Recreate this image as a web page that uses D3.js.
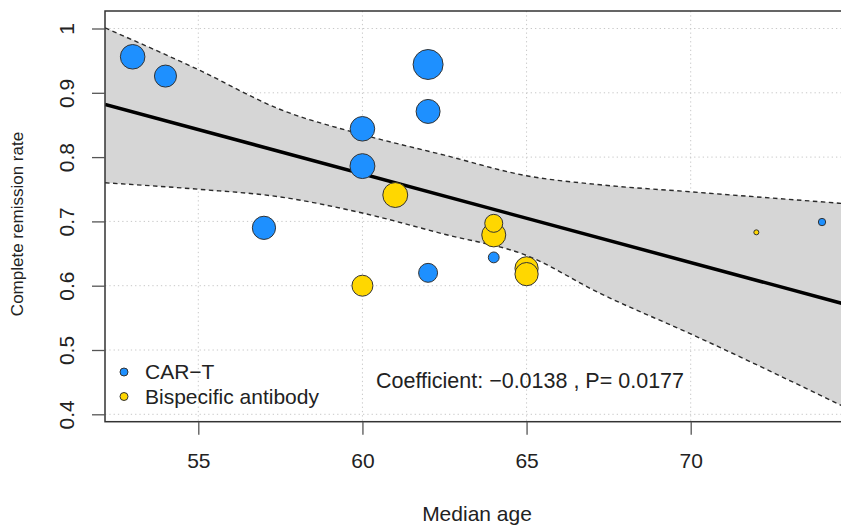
<!DOCTYPE html>
<html>
<head>
<meta charset="utf-8">
<script src="https://cdn.jsdelivr.net/npm/d3@7"></script>
<style>
  html, body { margin: 0; padding: 0; background: #fff; }
  svg { display: block; font-family: "Liberation Sans", Arial, sans-serif; }
</style>
</head>
<body>
<div id="container"></div>
<script>
// studies: median age, complete remission rate, relative weight (%)
const cartAge = [53, 54, 57, 60, 60, 62, 62, 62, 64, 74];
const cartRate = [0.956, 0.926, 0.690, 0.844, 0.786, 0.944, 0.871, 0.620, 0.644, 0.699];
const cartWeight = [6.7, 5.4, 6.0, 6.7, 6.9, 10.0, 6.4, 4.0, 1.3, 0.6];

const bsabAge = [61, 60, 64, 64, 65, 65, 72];
const bsabRate = [0.741, 0.600, 0.697, 0.679, 0.627, 0.618, 0.683];
const bsabWeight = [6.9, 4.9, 3.6, 6.4, 6.0, 6.0, 0.28];

// fitted meta-regression line and its confidence band
const fitAge = [52.16, 74.86];
const fitRate = [0.882, 0.569];
const bandAge = [52.16, 55, 57.5, 60, 62.5, 65, 67.24, 70, 74.86];
const bandUpper = [1.001, 0.936, 0.874, 0.835, 0.803, 0.771, 0.757, 0.746, 0.727];
const bandLower = [0.760, 0.750, 0.738, 0.713, 0.680, 0.647, 0.588, 0.525, 0.407];

const xTicks = [55, 60, 65, 70];
const yTicks = [0.4, 0.5, 0.6, 0.7, 0.8, 0.9, 1];
const groupNames = ["CAR\u2212T", "Bispecific antibody"];
const groupColors = ["#1E90FF", "#FFD700"];
const statText = "Coefficient: \u22120.0138 , P= 0.0177";

document.addEventListener("DOMContentLoaded", () => {
  const W = 841, H = 525;
  const plot = { left: 105, right: 849, top: 11, bottom: 421.7 };
  const fs = 21;

  const svg = d3.select("#container")
    .append("svg")
    .attr("width", W)
    .attr("height", H);

  const x = d3.scaleLinear().domain([55, 70]).range([198.3, 690.7]);
  const y = d3.scaleLinear().domain([0.4, 1]).range([414.3, 28.5]);
  const r = d3.scaleSqrt().domain([0, 10]).range([0, 15]);

  svg.append("clipPath").attr("id", "clip")
    .append("rect")
    .attr("x", plot.left).attr("y", plot.top)
    .attr("width", plot.right - plot.left)
    .attr("height", plot.bottom - plot.top);

  const inner = svg.append("g").attr("clip-path", "url(#clip)");

  // grid
  inner.append("g").selectAll("line")
    .data(xTicks)
    .join("line")
    .attr("x1", d => x(d)).attr("x2", d => x(d))
    .attr("y1", plot.top).attr("y2", plot.bottom)
    .attr("stroke", "#c8c8c8")
    .attr("stroke-dasharray", "1.3,3");

  inner.append("g").selectAll("line")
    .data(yTicks)
    .join("line")
    .attr("x1", plot.left).attr("x2", plot.right)
    .attr("y1", d => y(d)).attr("y2", d => y(d))
    .attr("stroke", "#c8c8c8")
    .attr("stroke-dasharray", "1.3,3");

  // confidence band
  const band = bandAge.map((a, i) => ({ age: a, up: bandUpper[i], lo: bandLower[i] }));

  inner.append("path")
    .datum(band)
    .attr("fill", "#d6d6d6")
    .attr("d", d3.area()
      .curve(d3.curveMonotoneX)
      .x(d => x(d.age))
      .y0(d => y(d.lo))
      .y1(d => y(d.up)));

  ["up", "lo"].forEach(k => {
    inner.append("path")
      .datum(band)
      .attr("fill", "none")
      .attr("stroke", "#2a2a2a")
      .attr("stroke-width", 1.4)
      .attr("stroke-dasharray", "4.5,3.5")
      .attr("d", d3.line()
        .curve(d3.curveMonotoneX)
        .x(d => x(d.age))
        .y(d => y(d[k])));
  });

  // regression line
  inner.append("path")
    .datum(fitAge.map((a, i) => [a, fitRate[i]]))
    .attr("fill", "none")
    .attr("stroke", "#000")
    .attr("stroke-width", 3.5)
    .attr("d", d3.line().x(d => x(d[0])).y(d => y(d[1])));

  // studies, largest drawn first
  const studies = [
    ...cartAge.map((a, i) => ({ age: a, rate: cartRate[i], w: cartWeight[i], g: 0 })),
    ...bsabAge.map((a, i) => ({ age: a, rate: bsabRate[i], w: bsabWeight[i], g: 1 }))
  ].sort((a, b) => b.w - a.w);

  inner.append("g").selectAll("circle")
    .data(studies)
    .join("circle")
    .attr("cx", d => x(d.age))
    .attr("cy", d => y(d.rate))
    .attr("r", d => r(d.w))
    .attr("fill", d => groupColors[d.g])
    .attr("stroke", "#333")
    .attr("stroke-width", 1);

  // box
  svg.append("rect")
    .attr("x", plot.left).attr("y", plot.top)
    .attr("width", plot.right - plot.left)
    .attr("height", plot.bottom - plot.top)
    .attr("fill", "none")
    .attr("stroke", "#333")
    .attr("stroke-width", 1.5);

  // x axis
  const xAxis = svg.append("g")
    .attr("transform", `translate(0,${plot.bottom})`)
    .call(d3.axisBottom(x).tickValues(xTicks).tickSize(13).tickPadding(18).tickFormat(d3.format("d")));
  xAxis.select(".domain").remove();
  xAxis.selectAll(".tick line").attr("stroke", "#555").attr("stroke-width", 1.3);
  xAxis.selectAll(".tick text")
    .attr("font-size", fs)
    .attr("fill", "#222")
    .attr("font-family", "Liberation Sans, Arial, sans-serif");

  // y axis
  const yAxis = svg.append("g")
    .attr("transform", `translate(${plot.left},0)`)
    .call(d3.axisLeft(y).tickValues(yTicks).tickSize(13).tickFormat(d => d === 1 ? "1" : d3.format(".1f")(d)));
  yAxis.select(".domain").remove();
  yAxis.selectAll(".tick line").attr("stroke", "#555").attr("stroke-width", 1.3);
  yAxis.selectAll(".tick text")
    .attr("x", null).attr("dy", null)
    .attr("transform", "translate(-31,0) rotate(-90)")
    .attr("text-anchor", "middle")
    .attr("font-size", fs)
    .attr("fill", "#222")
    .attr("font-family", "Liberation Sans, Arial, sans-serif");

  // axis titles
  svg.append("text")
    .attr("x", 477).attr("y", 521)
    .attr("text-anchor", "middle")
    .attr("font-size", fs)
    .attr("fill", "#222")
    .text("Median age");

  svg.append("text")
    .attr("transform", "translate(23,224) rotate(-90)")
    .attr("text-anchor", "middle")
    .attr("font-size", 17)
    .attr("fill", "#222")
    .text("Complete remission rate");

  // legend
  const legend = svg.append("g").attr("transform", "translate(124,372)");
  legend.selectAll("circle")
    .data(groupNames)
    .join("circle")
    .attr("cx", 0)
    .attr("cy", (d, i) => i * 24.5)
    .attr("r", 4)
    .attr("fill", (d, i) => groupColors[i])
    .attr("stroke", "#333");
  legend.selectAll("text")
    .data(groupNames)
    .join("text")
    .attr("x", 21)
    .attr("y", (d, i) => i * 24.5 + 7)
    .attr("font-size", fs)
    .attr("fill", "#222")
    .text(d => d);

  // statistic label
  svg.append("text")
    .attr("x", 376).attr("y", 388)
    .attr("font-size", 21.5)
    .attr("fill", "#222")
    .text(statText);
});
</script>
</body>
</html>
